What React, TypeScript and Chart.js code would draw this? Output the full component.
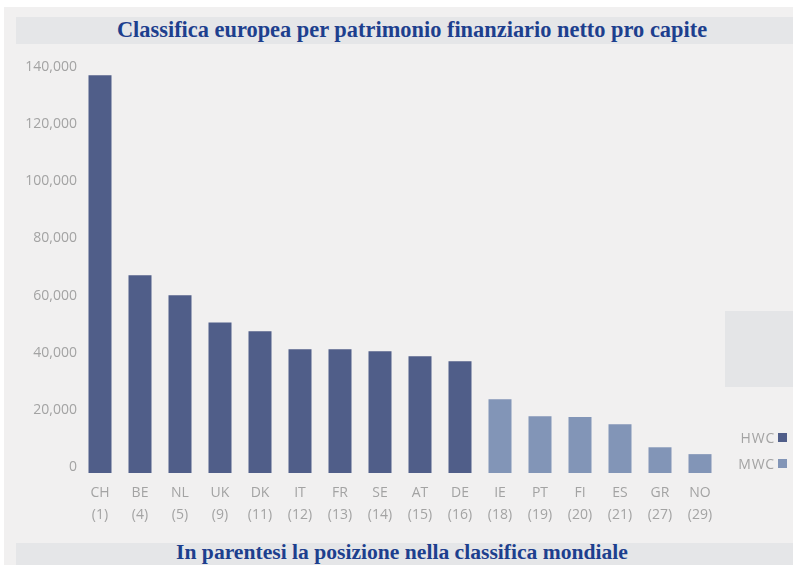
import React, { useEffect, useRef } from "react";
import { Chart, registerables } from "chart.js";

Chart.register(...registerables);

const titleText = "Classifica europea per patrimonio finanziario netto pro capite";
const footerText = "In parentesi la posizione nella classifica mondiale";

const countries = ["CH", "BE", "NL", "UK", "DK", "IT", "FR", "SE", "AT", "DE", "IE", "PT", "FI", "ES", "GR", "NO"];
const worldRanks = ["(1)", "(4)", "(5)", "(9)", "(11)", "(12)", "(13)", "(14)", "(15)", "(16)", "(18)", "(19)", "(20)", "(21)", "(27)", "(29)"];
const netFinancialAssets = [137100, 67100, 60100, 50600, 47500, 41200, 41200, 40500, 38800, 37000, 23700, 17800, 17500, 15000, 6900, 4500];
const wealthGroup = ["HWC", "HWC", "HWC", "HWC", "HWC", "HWC", "HWC", "HWC", "HWC", "HWC", "MWC", "MWC", "MWC", "MWC", "MWC", "MWC"];
const seriesNames = ["HWC", "MWC"];
const seriesColors = ["#505e89", "#8295b7"];
const yTicks = [0, 20000, 40000, 60000, 80000, 100000, 120000, 140000];

const axisFont = { family: "'Open Sans', sans-serif", size: 14 };
const axisColor = "#a3a3a3";

export default function App() {
  const canvasRef = useRef<HTMLCanvasElement | null>(null);

  useEffect(() => {
    const canvas = canvasRef.current;
    if (!canvas) return;
    const datasets = seriesNames.map((name, k) => ({
      label: name,
      data: netFinancialAssets.map((v, i) => (wealthGroup[i] === name ? v : null)),
      backgroundColor: seriesColors[k],
      borderWidth: 0,
      grouped: false,
      barPercentage: 0.575,
      categoryPercentage: 1,
      base: -2100,
    }));
    const chart = new Chart(canvas, {
      type: "bar",
      data: {
        labels: countries.map((c, i) => [c, worldRanks[i]]),
        datasets: datasets as any,
      },
      options: {
        animation: false,
        responsive: false,
        maintainAspectRatio: false,
        layout: { padding: { top: 67, right: 73, bottom: 32, left: 0 } },
        plugins: { legend: { display: false }, tooltip: { enabled: false } },
        scales: {
          x: {
            grid: { display: false, drawTicks: false },
            border: { display: false },
            ticks: {
              color: axisColor,
              font: { ...axisFont, lineHeight: 22 / 14 },
              padding: 9,
              autoSkip: false,
              maxRotation: 0,
            },
            afterFit: (s: any) => {
              s.height = 60;
            },
          },
          y: {
            min: -2100,
            max: 140000,
            afterBuildTicks: (s: any) => {
              s.ticks = yTicks.map((v) => ({ value: v }));
            },
            grid: { display: false, drawTicks: false },
            border: { display: false },
            ticks: {
              color: axisColor,
              font: axisFont,
              padding: 3,
              callback: (v: any) => Number(v).toLocaleString("en-US"),
            },
            afterFit: (s: any) => {
              s.width = 80;
            },
          },
        },
      } as any,
    });
    return () => chart.destroy();
  }, []);

  const bandStyle: React.CSSProperties = {
    position: "absolute",
    left: 16,
    right: 0,
    background: "#e5e6e8",
  };
  const headStyle: React.CSSProperties = {
    position: "absolute",
    fontFamily: "'Liberation Serif', 'Times New Roman', serif",
    fontWeight: "bold",
    color: "#1d3f8e",
    whiteSpace: "nowrap",
    transform: "translate(-50%, -50%)",
    lineHeight: 1,
  };

  return (
    <div style={{ position: "fixed", left: 0, top: 0, width: 793, height: 565, background: "#ffffff", overflow: "hidden" }}>
      <div style={{ position: "absolute", left: 4, top: 7, right: 0, bottom: 0, background: "#f1f0f0" }} />
      <div style={{ ...bandStyle, top: 17, height: 27 }} />
      <div style={{ ...bandStyle, top: 543, height: 22 }} />
      <div style={{ position: "absolute", left: 725, top: 311, width: 68, height: 76, background: "#e4e5e7" }} />
      <div style={{ ...headStyle, fontSize: 22.4, left: 412, top: 30 }}>{titleText}</div>
      <div style={{ ...headStyle, fontSize: 21.6, left: 402, top: 553 }}>{footerText}</div>
      <canvas ref={canvasRef} width={793} height={565} style={{ position: "absolute", left: 0, top: 0 }} />
      {seriesNames.map((name, k) => (
        <div
          key={name}
          style={{
            position: "absolute",
            right: 6,
            top: 437 + k * 26.5 - 9,
            height: 18,
            display: "flex",
            alignItems: "center",
            fontFamily: "'Open Sans', sans-serif",
            fontSize: 14,
            letterSpacing: 0.8,
            color: axisColor,
          }}
        >
          <span>{name}</span>
          <span style={{ display: "inline-block", width: 9, height: 9, marginLeft: 3, background: seriesColors[k] }} />
        </div>
      ))}
    </div>
  );
}
